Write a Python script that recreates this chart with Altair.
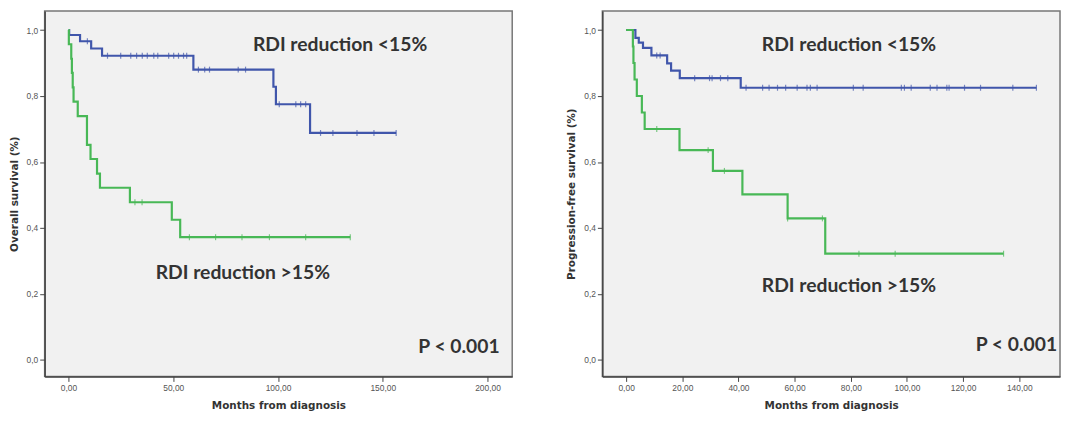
import altair as alt
import numpy as np
import pandas as pd

# ---------------- data ----------------
LO = "RDI reduction <15%"
HI = "RDI reduction >15%"

# Overall survival (left panel): step times (months) and survival after each step
os_lo_t = [0, 0.3, 5.5, 10.8, 16.0, 59.6, 97.8, 99.0, 115.3, 156.4]
os_lo_s = [1.0, 0.985, 0.966, 0.944, 0.922, 0.880, 0.828, 0.775, 0.688, 0.688]
os_lo_cens = [9.0, 18.6, 24.9, 29.7, 32.5, 35.2, 37.6, 40.7, 42.6, 47.8, 50.2,
              52.5, 54.9, 56.4, 62.0, 65.0, 67.3, 81.0, 84.5, 100.6, 108.5,
              110.8, 113.2, 120.3, 126.2, 137.7, 145.8, 156.4]

os_hi_t = [0, 0.15, 1.3, 1.6, 2.0, 2.4, 4.4, 8.8, 10.5, 13.6, 15.0, 29.3, 49.3, 53.3, 134.5]
os_hi_s = [1.0, 0.957, 0.913, 0.870, 0.826, 0.783, 0.739, 0.652, 0.609, 0.565,
           0.522, 0.478, 0.425, 0.372, 0.372]
os_hi_cens = [31.7, 35.1, 57.7, 70.2, 82.8, 95.9, 113.2, 134.5]

# Progression-free survival (right panel)
pfs_lo_t = [0, 3.3, 4.5, 6.0, 9.0, 14.6, 16.0, 19.1, 40.8, 146.1]
pfs_lo_s = [1.0, 0.976, 0.962, 0.946, 0.923, 0.899, 0.877, 0.854, 0.825, 0.825]
pfs_lo_cens = [10.9, 12.1, 24.4, 29.7, 30.6, 33.6, 36.2, 42.7, 48.6, 50.9, 53.9,
               56.8, 60.9, 64.4, 65.6, 68.0, 80.9, 84.4, 98.0, 99.1, 101.5,
               108.3, 110.7, 114.2, 115.0, 120.5, 126.2, 137.7, 146.1]

pfs_hi_t = [0, 2.4, 2.6, 3.0, 3.8, 5.6, 6.6, 19.0, 30.9, 41.4, 57.5, 70.9, 134.4]
pfs_hi_s = [1.0, 0.95, 0.90, 0.85, 0.80, 0.75, 0.70, 0.636, 0.573, 0.502, 0.429,
            0.322, 0.322]
pfs_hi_cens = [10.9, 29.2, 35.0, 57.5, 69.9, 82.9, 95.8, 134.4]

y_ticks = [0.0, 0.2, 0.4, 0.6, 0.8, 1.0]
os_x_ticks = [0, 50, 100, 150, 200]
pfs_x_ticks = [0, 20, 40, 60, 80, 100, 120, 140]

BLUE = "#4056ab"
GREEN = "#48b856"
INK = "#333333"


def steps(t, s, g):
    return pd.DataFrame({"t": t, "s": s, "g": g})


def censors(ct, t, s, g):
    t = np.asarray(t)
    s = np.asarray(s)
    idx = np.searchsorted(t, np.asarray(ct), side="right") - 1
    return pd.DataFrame({"t": ct, "s": s[idx], "g": g})


def panel(line_df, cens_df, text_df, xdom, xticks, xfmt, ytitle, width):
    xs = alt.Scale(domain=xdom, nice=False, zero=False)
    ys = alt.Scale(domain=[-0.05, 1.058], nice=False, zero=False)
    cs = alt.Scale(domain=[LO, HI], range=[BLUE, GREEN])
    x = alt.X("t:Q", scale=xs, axis=alt.Axis(
        values=xticks, title="Months from diagnosis",
        labelExpr=f"replace(format(datum.value, '{xfmt}'), '.', ',')"))
    y = alt.Y("s:Q", scale=ys, axis=alt.Axis(
        values=y_ticks, title=ytitle,
        labelExpr="replace(format(datum.value, '.1f'), '.', ',')"))
    lines = alt.Chart(line_df).mark_line(
        interpolate="step-after", strokeWidth=2.2).encode(
        x=x, y=y, color=alt.Color("g:N", scale=cs, legend=None))
    ticks = alt.Chart(cens_df).mark_tick(
        orient="vertical", size=6, thickness=1.2).encode(
        x="t:Q", y="s:Q", color=alt.Color("g:N", scale=cs, legend=None))
    texts = alt.Chart(text_df).mark_text(
        align="left", baseline="middle", font="Lato", fontWeight="bold",
        fontSize=19.5, color=INK).encode(x="t:Q", y="s:Q", text="label:N")
    return alt.layer(lines, ticks, texts).properties(width=width, height=369)


os_lines = pd.concat([steps(os_lo_t, os_lo_s, LO), steps(os_hi_t, os_hi_s, HI)])
os_cens = pd.concat([censors(os_lo_cens, os_lo_t, os_lo_s, LO),
                     censors(os_hi_cens, os_hi_t, os_hi_s, HI)])
os_text = pd.DataFrame({"t": [88.0, 41.6, 167.0], "s": [0.954, 0.264, 0.038],
                        "label": [LO, HI, "P < 0.001"]})

pfs_lines = pd.concat([steps(pfs_lo_t, pfs_lo_s, LO), steps(pfs_hi_t, pfs_hi_s, HI)])
pfs_cens = pd.concat([censors(pfs_lo_cens, pfs_lo_t, pfs_lo_s, LO),
                      censors(pfs_hi_cens, pfs_hi_t, pfs_hi_s, HI)])
pfs_text = pd.DataFrame({"t": [48.3, 48.3, 124.5], "s": [0.954, 0.224, 0.044],
                         "label": [LO, HI, "P < 0.001"]})

left = panel(os_lines, os_cens, os_text, [-11.4, 211.8], os_x_ticks, ".2f",
             "Overall survival (%)", 472)
right = panel(pfs_lines, pfs_cens, pfs_text, [-8.47, 154.5], pfs_x_ticks, ".2f",
              "Progression-free survival (%)", 462)

chart = alt.hconcat(left, right, spacing=53).properties(
    padding=0, background="white"
).configure_view(
    fill="#f1f1f1", stroke="#777777", strokeWidth=1.5
).configure_axis(
    grid=False, domainColor="#444444", domainWidth=1.5,
    tickColor="#444444", tickSize=5, labelPadding=2,
    labelFont="Liberation Sans", labelFontSize=8.5, labelColor="#555555",
    titleFont="DejaVu Sans", titleFontSize=10.5, titleFontWeight="bold",
    titleColor=INK
).configure_axisY(titlePadding=7).configure_axisX(titlePadding=9)

chart.save("out.html", embed_options={"renderer": "svg", "actions": False})
